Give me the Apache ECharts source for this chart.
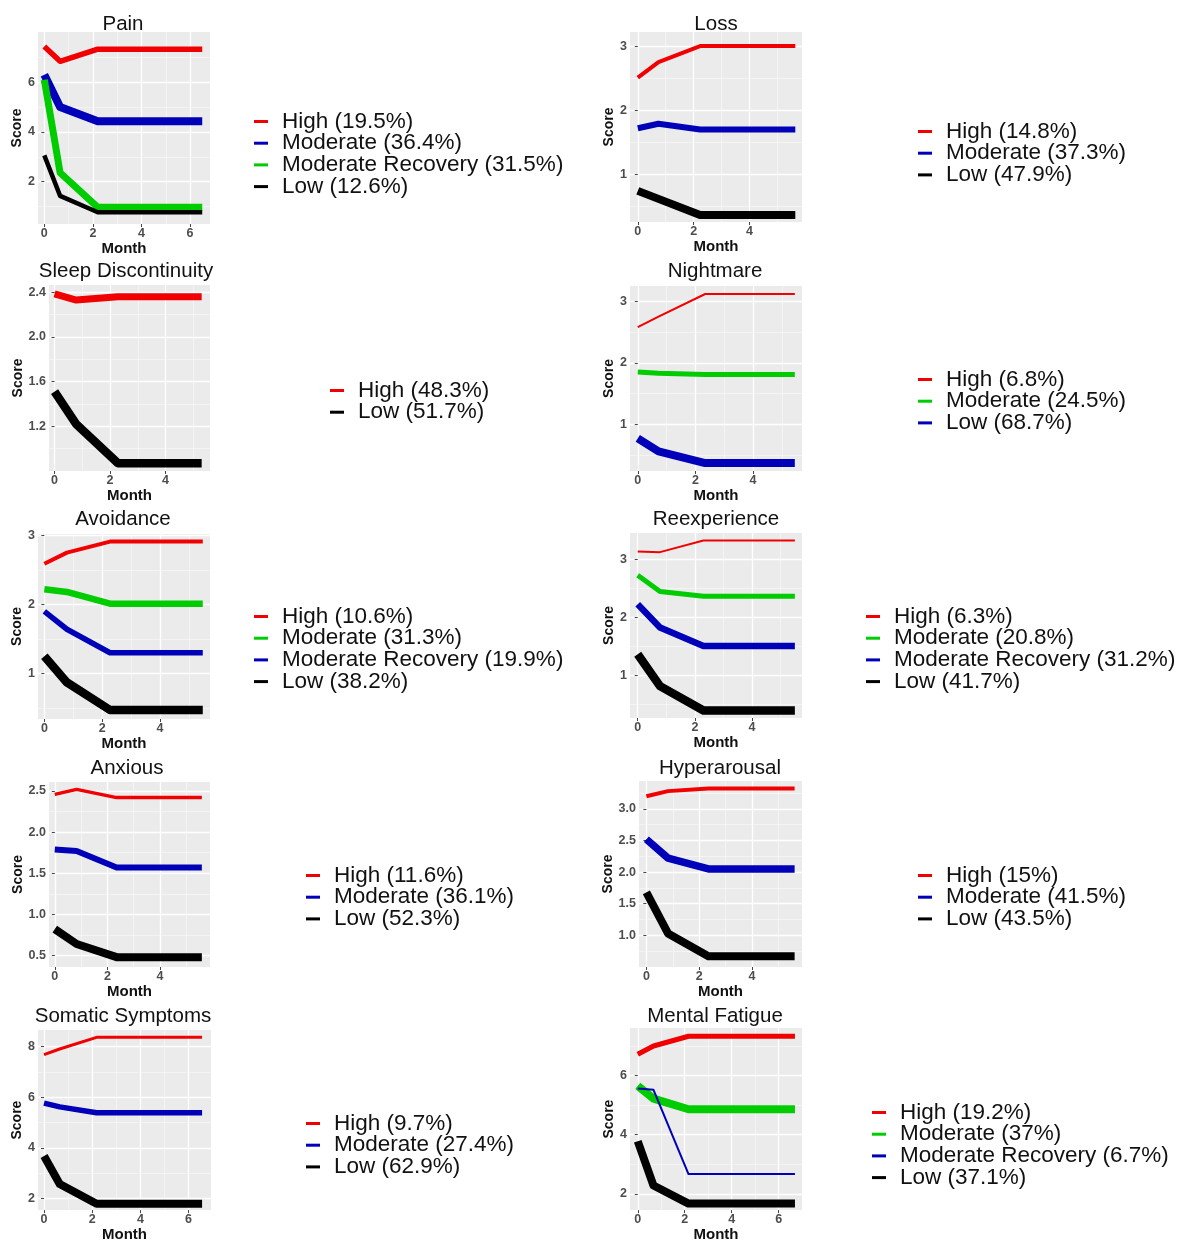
<!DOCTYPE html>
<html><head><meta charset="utf-8">
<script src="https://cdn.jsdelivr.net/npm/echarts@6/dist/echarts.min.js"></script>
<style>html,body{margin:0;padding:0;background:#fff}#c{width:1179px;height:1243px}</style>
</head><body><div id="c"></div>
<script>
// ---------------- DATA ----------------
const painMonths = [0, 0.65, 2.2, 6.5];
const painHigh = [7.44, 6.84, 7.33, 7.33];
const painModerate = [6.3, 5.0, 4.43, 4.43];
const painModRecovery = [6.1, 2.36, 0.97, 0.97];
const painLow = [3.06, 1.43, 0.77, 0.77];

const lossMonths = [0, 0.74, 2.23, 5.64];
const lossHigh = [2.51, 2.75, 3.0, 3.0];
const lossModerate = [1.72, 1.79, 1.70, 1.70];
const lossLow = [0.745, 0.62, 0.37, 0.37];

const sleepMonths = [0, 0.78, 2.28, 5.3];
const sleepHigh = [2.385, 2.33, 2.36, 2.36];
const sleepLow = [1.51, 1.22, 0.87, 0.87];

const nightmareMonths = [0, 0.72, 2.34, 5.45];
const nightmareHigh = [2.58, 2.75, 3.12, 3.12];
const nightmareModerate = [1.85, 1.83, 1.81, 1.81];
const nightmareLow = [0.77, 0.56, 0.37, 0.37];

const avoidMonths = [0, 0.78, 2.27, 5.48];
const avoidHigh = [2.59, 2.75, 2.91, 2.91];
const avoidModerate = [2.22, 2.18, 2.01, 2.01];
const avoidModRecovery = [1.9, 1.64, 1.30, 1.30];
const avoidLow = [1.25, 0.87, 0.47, 0.47];

const reexpMonths = [0, 0.78, 2.3, 5.5];
const reexpHigh = [3.14, 3.13, 3.33, 3.33];
const reexpModerate = [2.73, 2.45, 2.37, 2.37];
const reexpModRecovery = [2.23, 1.83, 1.51, 1.51];
const reexpLow = [1.37, 0.82, 0.40, 0.40];

const anxMonths = [0, 0.83, 2.35, 5.59];
const anxHigh = [2.46, 2.52, 2.42, 2.42];
const anxModerate = [1.79, 1.77, 1.57, 1.57];
const anxLow = [0.82, 0.64, 0.48, 0.48];

const hyperMonths = [0, 0.82, 2.35, 5.62];
const hyperHigh = [3.2, 3.28, 3.32, 3.32];
const hyperModerate = [2.52, 2.22, 2.05, 2.05];
const hyperLow = [1.68, 1.03, 0.67, 0.67];

const somaMonths = [0, 0.65, 2.18, 6.56];
const somaHigh = [7.68, 7.9, 8.36, 8.36];
const somaModerate = [5.77, 5.62, 5.39, 5.39];
const somaLow = [3.68, 2.58, 1.8, 1.8];

const fatigueMonths = [0, 0.67, 2.16, 6.69];
const fatigueHigh = [6.72, 7.0, 7.33, 7.33];
const fatigueModerate = [5.65, 5.22, 4.86, 4.86];
const fatigueModRecovery = [5.56, 5.52, 2.67, 2.67];
const fatigueLow = [3.78, 2.28, 1.67, 1.67];

// tick labels
const xTicks6 = [0, 2, 4, 6];
const xTicks4 = [0, 2, 4];
const yTicksPain = [2, 4, 6];
const yTicksLoss = [1, 2, 3];
const yTicksSleep = [1.2, 1.6, 2.0, 2.4];
const yTicksNightmare = [1, 2, 3];
const yTicksAvoid = [1, 2, 3];
const yTicksReexp = [1, 2, 3];
const yTicksAnx = [0.5, 1.0, 1.5, 2.0, 2.5];
const yTicksHyper = [1.0, 1.5, 2.0, 2.5, 3.0];
const yTicksSoma = [2, 4, 6, 8];
const yTicksFatigue = [2, 4, 6];

// ---------------- STYLE / LAYOUT ----------------
const RED = '#F00000', BLUE = '#0000B8', GREEN = '#00CC00', BLACK = '#000000';
const FONT = "'Liberation Sans', Arial, Helvetica, sans-serif";

const panels = [
  { title: 'Pain', tx: 123, ty: 14, box: [38, 32, 210, 224], xr: [-0.26, 6.82], yr: [0.30, 8.02],
    xt: xTicks6, yt: yTicksPain, yd: 0, months: painMonths, lg: [254, 110],
    groups: [['High (19.5%)', painHigh, RED, 5.5], ['Moderate (36.4%)', painModerate, BLUE, 8],
             ['Moderate Recovery (31.5%)', painModRecovery, GREEN, 7], ['Low (12.6%)', painLow, BLACK, 4.5]] },
  { title: 'Loss', tx: 716, ty: 14, box: [630, 32, 802, 222], xr: [-0.28, 5.88], yr: [0.26, 3.22],
    xt: xTicks4, yt: yTicksLoss, yd: 0, months: lossMonths, lg: [918, 120],
    groups: [['High (14.8%)', lossHigh, RED, 4], ['Moderate (37.3%)', lossModerate, BLUE, 6],
             ['Low (47.9%)', lossLow, BLACK, 8]] },
  { title: 'Sleep Discontinuity', tx: 126, ty: 261, box: [49, 285, 210, 471], xr: [-0.2, 5.6], yr: [0.80, 2.465],
    xt: xTicks4, yt: yTicksSleep, yd: 1, months: sleepMonths, lg: [330, 379],
    groups: [['High (48.3%)', sleepHigh, RED, 7], ['Low (51.7%)', sleepLow, BLACK, 8.5]] },
  { title: 'Nightmare', tx: 715, ty: 261, box: [630, 286, 802, 471], xr: [-0.27, 5.7], yr: [0.24, 3.25],
    xt: xTicks4, yt: yTicksNightmare, yd: 0, months: nightmareMonths, lg: [918, 368],
    groups: [['High (6.8%)', nightmareHigh, RED, 2], ['Moderate (24.5%)', nightmareModerate, GREEN, 5],
             ['Low (68.7%)', nightmareLow, BLUE, 8]] },
  { title: 'Avoidance', tx: 123, ty: 509, box: [38, 534, 210, 719], xr: [-0.22, 5.73], yr: [0.34, 3.02],
    xt: xTicks4, yt: yTicksAvoid, yd: 0, months: avoidMonths, lg: [254, 605],
    groups: [['High (10.6%)', avoidHigh, RED, 4], ['Moderate (31.3%)', avoidModerate, GREEN, 6.5],
             ['Moderate Recovery (19.9%)', avoidModRecovery, BLUE, 5.5], ['Low (38.2%)', avoidLow, BLACK, 8.5]] },
  { title: 'Reexperience', tx: 716, ty: 509, box: [630, 533, 802, 718], xr: [-0.27, 5.75], yr: [0.27, 3.46],
    xt: xTicks4, yt: yTicksReexp, yd: 0, months: reexpMonths, lg: [866, 605],
    groups: [['High (6.3%)', reexpHigh, RED, 2], ['Moderate (20.8%)', reexpModerate, GREEN, 5],
             ['Moderate Recovery (31.2%)', reexpModRecovery, BLUE, 6.5], ['Low (41.7%)', reexpLow, BLACK, 8.5]] },
  { title: 'Anxious', tx: 127, ty: 758, box: [49, 782, 210, 967], xr: [-0.22, 5.9], yr: [0.36, 2.61],
    xt: xTicks4, yt: yTicksAnx, yd: 1, months: anxMonths, lg: [306, 864],
    groups: [['High (11.6%)', anxHigh, RED, 3.5], ['Moderate (36.1%)', anxModerate, BLUE, 6],
             ['Low (52.3%)', anxLow, BLACK, 8]] },
  { title: 'Hyperarousal', tx: 720, ty: 758, box: [639, 781, 802, 967], xr: [-0.28, 5.9], yr: [0.50, 3.44],
    xt: xTicks4, yt: yTicksHyper, yd: 1, months: hyperMonths, lg: [918, 864],
    groups: [['High (15%)', hyperHigh, RED, 4], ['Moderate (41.5%)', hyperModerate, BLUE, 7.5],
             ['Low (43.5%)', hyperLow, BLACK, 8]] },
  { title: 'Somatic Symptoms', tx: 123, ty: 1006, box: [38, 1030, 211, 1212], xr: [-0.25, 6.93], yr: [1.55, 8.65],
    xt: xTicks6, yt: yTicksSoma, yd: 0, months: somaMonths, lg: [306, 1112],
    groups: [['High (9.7%)', somaHigh, RED, 3], ['Moderate (27.4%)', somaModerate, BLUE, 5.5],
             ['Low (62.9%)', somaLow, BLACK, 8]] },
  { title: 'Mental Fatigue', tx: 715, ty: 1006, box: [630, 1028, 802, 1212], xr: [-0.33, 6.99], yr: [1.45, 7.61],
    xt: xTicks6, yt: yTicksFatigue, yd: 0, months: fatigueMonths, lg: [872, 1101],
    groups: [['High (19.2%)', fatigueHigh, RED, 5], ['Moderate (37%)', fatigueModerate, GREEN, 8],
             ['Moderate Recovery (6.7%)', fatigueModRecovery, BLUE, 2], ['Low (37.1%)', fatigueLow, BLACK, 8]] }
];

const SCORE_X_LEFT = 18, SCORE_X_RIGHT = 609;

const option = { animation: false, backgroundColor: '#ffffff',
  title: [], grid: [], xAxis: [], yAxis: [], series: [], legend: [] };

panels.forEach((p, i) => {
  const [l, t, r, b] = p.box;
  const xStep = +(p.xt[1] - p.xt[0]).toFixed(6);
  const yStep = +(p.yt[1] - p.yt[0]).toFixed(6);
  option.title.push({ text: p.title, left: p.tx, top: p.ty, textAlign: 'center', padding: 0,
    textStyle: { fontSize: 20.5, fontWeight: 'normal', color: '#111', fontFamily: FONT } });
  option.grid.push({ left: l, top: t, width: r - l, height: b - t, show: true,
    backgroundColor: '#EBEBEB', borderWidth: 0, containLabel: false });
  const scoreX = l < 500 ? SCORE_X_LEFT : SCORE_X_RIGHT;
  const axisCommon = {
    gridIndex: i, type: 'value',
    axisLine: { show: false },
    splitLine: { show: true, lineStyle: { color: '#FFFFFF', width: 1.3 } },
    minorTick: { show: false, splitNumber: 2 },
    minorSplitLine: { show: true, lineStyle: { color: '#F8F8F8', width: 0.7 } },
    nameLocation: 'middle'
  };
  option.xAxis.push(Object.assign({}, axisCommon, {
    min: p.xr[0], max: p.xr[1], minInterval: xStep, maxInterval: xStep,
    axisTick: { show: true, length: 3, lineStyle: { color: '#444', width: 1 }, customValues: p.xt },
    axisLabel: { customValues: p.xt, color: '#4D4D4D', fontWeight: 'bold', fontSize: 12.5, margin: 3, fontFamily: FONT },
    name: 'Month', nameGap: 13.5,
    nameTextStyle: { fontWeight: 'bold', fontSize: 15, color: '#111', fontFamily: FONT }
  }));
  option.yAxis.push(Object.assign({}, axisCommon, {
    min: p.yr[0], max: p.yr[1], minInterval: yStep, maxInterval: yStep,
    axisTick: { show: true, length: 3, lineStyle: { color: '#444', width: 1 }, customValues: p.yt },
    axisLabel: { customValues: p.yt, color: '#4D4D4D', fontWeight: 'bold', fontSize: 12.5, margin: 3, fontFamily: FONT,
      formatter: v => Number(v).toFixed(p.yd) },
    name: 'Score', nameRotate: 90, nameGap: l - scoreX - 7,
    nameTextStyle: { fontWeight: 'bold', fontSize: 14, color: '#111', fontFamily: FONT }
  }));
  p.groups.forEach(g => {
    const [name, vals, color, w] = g;
    option.series.push({ type: 'line', name, xAxisIndex: i, yAxisIndex: i,
      data: p.months.map((m, j) => [m, vals[j]]), symbol: 'none', showSymbol: false, silent: true,
      color, itemStyle: { color }, lineStyle: { color, width: w, cap: 'butt', join: 'round' } });
  });
  option.legend.push({ orient: 'vertical', left: p.lg[0], top: p.lg[1], itemGap: -1.3,
    icon: 'rect', itemWidth: 14, itemHeight: 3, selectedMode: false, padding: 0,
    data: p.groups.map(g => g[0]),
    textStyle: { fontSize: 22.5, color: '#111', fontFamily: FONT, lineHeight: 21.7, padding: [0, 0, 0, 9] } });
});

const chart = echarts.init(document.getElementById('c'), null, { renderer: 'canvas' });
chart.setOption(option);
</script>
</body></html>
